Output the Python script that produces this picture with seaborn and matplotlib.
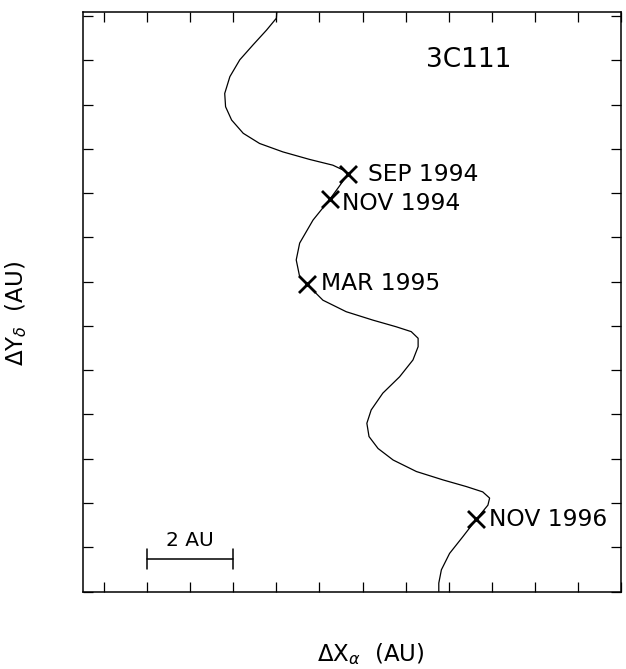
import matplotlib
matplotlib.use("Agg")
import matplotlib.pyplot as plt
import seaborn as sns
import pandas as pd

# ---- data (AU) ----
curve_x = [4.01, 4.00, 3.77, 3.46, 3.15, 2.92, 2.80, 2.82, 2.96, 3.23,
           3.61, 4.15, 4.77, 5.31, 5.55, 5.66, 5.45, 5.24, 4.85, 4.54,
           4.46, 4.54, 4.70, 5.08, 5.62, 6.24, 6.78, 7.13, 7.29, 7.29,
           7.17, 6.86, 6.47, 6.20, 6.10, 6.15, 6.36, 6.71, 7.25, 7.87,
           8.41, 8.79, 8.95, 8.91, 8.64, 8.33, 8.02, 7.83, 7.77, 7.77]
curve_y = [13.09, 12.95, 12.68, 12.35, 12.01, 11.63, 11.25, 10.95, 10.65, 10.35,
           10.12, 9.93, 9.76, 9.63, 9.52, 9.43, 9.14, 8.86, 8.39, 7.87,
           7.49, 7.11, 6.95, 6.58, 6.32, 6.13, 5.98, 5.87, 5.72, 5.53,
           5.23, 4.85, 4.48, 4.10, 3.80, 3.50, 3.23, 2.97, 2.71, 2.52,
           2.37, 2.25, 2.11, 1.95, 1.63, 1.24, 0.86, 0.49, 0.19, 0.00]

epoch_labels = ["SEP 1994", "NOV 1994", "MAR 1995", "NOV 1996"]
epoch_x = [5.66, 5.24, 4.70, 8.64]
epoch_y = [9.43, 8.86, 6.95, 1.63]

source_name = "3C111"
scale_label = "2 AU"
scale_len = 2.0

# ---- figure ----
sns.set_style("ticks")
plt.rcParams["font.family"] = ["DejaVu Sans"]
plt.rcParams["mathtext.fontset"] = "dejavusans"
plt.rcParams["text.color"] = "black"
plt.rcParams["axes.labelcolor"] = "black"
plt.rcParams["axes.edgecolor"] = "black"
plt.rcParams["xtick.color"] = "black"
plt.rcParams["ytick.color"] = "black"

fig = plt.figure(figsize=(6.26, 6.69), dpi=100)
ax = fig.add_axes([83 / 626, 1 - 591.5 / 669, 538 / 626, 579.5 / 669])

curve = pd.DataFrame({"x": curve_x, "y": curve_y})
sns.lineplot(data=curve, x="x", y="y", sort=False, estimator=None,
             color="black", linewidth=0.9, ax=ax, solid_joinstyle="round")

epochs = pd.DataFrame({"x": epoch_x, "y": epoch_y, "label": epoch_labels})
sns.scatterplot(data=epochs, x="x", y="y", marker="x", s=150,
                linewidth=2.0, color="black", ax=ax, zorder=5)

offsets = [(20, 0), (12, -4), (14, 0), (13, 0)]
for (lx, ly, lab), off in zip(zip(epoch_x, epoch_y, epoch_labels), offsets):
    ax.annotate(lab, (lx, ly), xytext=off, textcoords="offset pixels",
                ha="left", va="center", fontsize=16.8, color="black")

ax.text(8.46, 12.0, source_name, ha="center", va="center", fontsize=19,
        color="black")

# scale bar
sb_x0, sb_y = 1.0, 0.73
ax.plot([sb_x0, sb_x0 + scale_len], [sb_y, sb_y], color="black", lw=1.1)
ax.plot([sb_x0, sb_x0], [sb_y - 0.23, sb_y + 0.23], color="black", lw=1.1)
ax.plot([sb_x0 + scale_len, sb_x0 + scale_len], [sb_y - 0.23, sb_y + 0.23],
        color="black", lw=1.1)
ax.text(sb_x0 + scale_len / 2, sb_y + 0.2, scale_label, ha="center",
        va="bottom", fontsize=14.5, color="black")

ax.set_xlim(-0.49, 12.0)
ax.set_ylim(0, 13.09)
ax.set_xticks(range(0, 13))
ax.set_yticks(range(0, 14))
ax.tick_params(direction="in", length=7, width=0.9, top=True, right=True,
               labelbottom=False, labelleft=False, color="black")
for sp in ax.spines.values():
    sp.set_visible(True)
    sp.set_linewidth(1.1)
    sp.set_color("black")

ax.set_xlabel(r"$\Delta\mathrm{X}_{\alpha}$  (AU)", fontsize=16.5,
              color="black")
ax.set_ylabel(r"$\Delta\mathrm{Y}_{\delta}$  (AU)", fontsize=16.5,
              color="black")
ax.xaxis.set_label_coords(0.535, -0.085)
ax.yaxis.set_label_coords(-0.10, 0.48)

fig.savefig("out.png", dpi=100)
